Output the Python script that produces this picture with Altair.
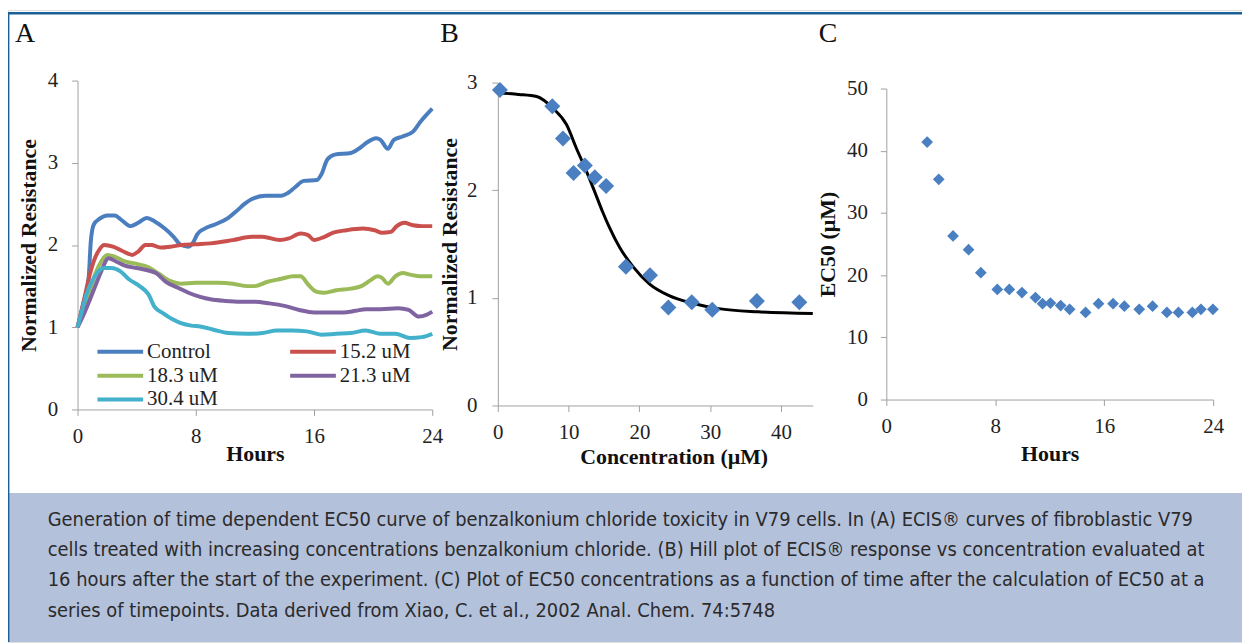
import altair as alt
import pandas as pd

SERIF = "Liberation Serif"

# ---------------- Panel A: ECIS curves ----------------
series_names = ["Control", "15.2 uM", "18.3 uM", "21.3 uM", "30.4 uM"]
series_colors = ["#4a7ebf", "#c9504c", "#9bbb59", "#8064a2", "#43b0cc"]

control_h = [0, 0.4, 0.75, 0.9, 1.1, 1.5, 2.0, 2.5, 3.0, 3.6, 4.1, 4.7, 5.2, 5.9, 6.5, 7.0, 7.5, 7.85,
             8.1, 8.6, 9.3, 10.2, 10.8, 11.3, 11.8, 12.7, 13.8, 14.2, 14.7, 15.3, 16.2, 16.5, 16.9, 17.4,
             18.5, 19.1, 19.6, 20.2, 20.5, 21.0, 21.4, 22.0, 22.7, 23.2, 24.0]
control_v = [1.0, 1.3, 1.6, 2.05, 2.25, 2.32, 2.36, 2.36, 2.3, 2.23, 2.27, 2.33, 2.29, 2.2, 2.1, 2.0, 1.98, 2.04,
             2.13, 2.2, 2.25, 2.33, 2.42, 2.5, 2.56, 2.6, 2.6, 2.63, 2.7, 2.78, 2.79, 2.86, 3.04, 3.1,
             3.12, 3.18, 3.25, 3.3, 3.28, 3.17, 3.28, 3.32, 3.38, 3.5, 3.66]

c152_h = [0, 0.4, 0.8, 1.2, 1.5, 1.8, 2.4, 3.0, 3.7, 4.1, 4.6, 5.0, 5.6, 6.3, 7.0, 8.0, 9.0, 10.5, 11.8,
          12.5, 13.7, 14.3, 15.1, 15.6, 16.0, 16.7, 17.3, 18.2, 19.3, 20.1, 20.6, 21.2, 21.6, 22.1, 22.7,
          23.3, 24.0]
c152_v = [1.0, 1.3, 1.62, 1.85, 1.95, 2.0, 1.98, 1.93, 1.88, 1.92, 2.0, 2.0, 1.97, 1.98, 2.0, 2.01, 2.02,
          2.06, 2.1, 2.1, 2.06, 2.08, 2.14, 2.12, 2.06, 2.1, 2.15, 2.18, 2.2, 2.18, 2.15, 2.16, 2.23, 2.27,
          2.24, 2.23, 2.23]

c183_h = [0, 0.4, 0.8, 1.2, 1.6, 2.0, 2.5, 3.2, 4.0, 4.8, 5.5, 6.3, 7.0, 8.0, 9.5, 10.5, 11.5, 12.0, 12.8,
          13.8, 14.6, 15.1, 15.6, 16.2, 16.7, 17.5, 18.5, 19.2, 19.8, 20.3, 20.6, 21.0, 21.5, 22.0, 22.5,
          23.2, 24.0]
c183_v = [1.0, 1.2, 1.42, 1.65, 1.8, 1.88, 1.86, 1.8, 1.77, 1.73, 1.65, 1.56, 1.53, 1.54, 1.54, 1.53, 1.5,
          1.5, 1.55, 1.59, 1.62, 1.62, 1.52, 1.43, 1.42, 1.45, 1.47, 1.5, 1.57, 1.62, 1.6, 1.53, 1.62, 1.66,
          1.64, 1.62, 1.62]

c213_h = [0, 0.4, 0.8, 1.2, 1.6, 2.1, 2.6, 3.2, 4.0, 4.8, 5.3, 6.0, 6.8, 7.5, 8.3, 9.0, 10.0, 11.0, 12.0,
          13.0, 14.0, 15.0, 16.0, 17.0, 18.0, 18.8, 19.5, 20.5, 21.7, 22.4, 23.1, 23.6, 24.0]
c213_v = [1.0, 1.15, 1.32, 1.5, 1.68, 1.84, 1.8, 1.75, 1.72, 1.69, 1.66, 1.55, 1.48, 1.42, 1.37, 1.34, 1.32,
          1.31, 1.31, 1.29, 1.26, 1.21, 1.18, 1.18, 1.18, 1.2, 1.22, 1.22, 1.23, 1.21, 1.13, 1.15, 1.19]

c304_h = [0, 0.3, 0.6, 1.1, 1.8, 2.3, 2.9, 3.5, 4.2, 4.8, 5.2, 5.8, 6.4, 7.0, 7.7, 8.3, 9.2, 10.2, 11.5,
          12.5, 13.5, 14.5, 15.5, 16.5, 17.5, 18.5, 19.5, 20.5, 21.5, 22.5, 23.3, 24.0]
c304_v = [1.0, 1.2, 1.4, 1.6, 1.72, 1.72, 1.68, 1.58, 1.5, 1.4, 1.25, 1.17, 1.1, 1.05, 1.02, 1.01, 0.97,
          0.93, 0.92, 0.93, 0.96, 0.96, 0.95, 0.91, 0.92, 0.93, 0.96, 0.92, 0.92, 0.87, 0.88, 0.92]

hours_ticks = [0, 8, 16, 24]
a_y_ticks = [0, 1, 2, 3, 4]

# ---------------- Panel B: Hill plot ----------------
b_conc = [0.3, 7.7, 9.2, 10.7, 12.3, 13.7, 15.3, 18.1, 21.5, 24.1, 27.4, 30.3, 36.6, 42.6]
b_resp = [2.93, 2.78, 2.48, 2.16, 2.23, 2.12, 2.04, 1.29, 1.21, 0.91, 0.96, 0.89, 0.97, 0.96]
fit_conc = [0, 0.8, 3, 5.5, 7.8, 9.7, 11.1, 12.5, 13.9, 14.8, 15.8, 17.2, 19.1, 21.4, 24.2, 27.5, 31.2, 36.8, 44.5]
fit_resp = [2.90, 2.90, 2.89, 2.87, 2.76, 2.61, 2.39, 2.18, 1.95, 1.80, 1.65, 1.47, 1.29, 1.13, 1.02, 0.95,
            0.90, 0.87, 0.855]
b_x_ticks = [0, 10, 20, 30, 40]
b_y_ticks = [0, 1, 2, 3]

# ---------------- Panel C: EC50 vs time ----------------
c_hours = [3.0, 3.85, 4.9, 6.04, 6.94, 8.15, 9.03, 9.96, 10.95, 11.47, 12.05, 12.8, 13.46, 14.63, 15.58,
           16.65, 17.48, 18.57, 19.55, 20.6, 21.45, 22.47, 23.1, 23.98]
c_ec50 = [41.4, 35.4, 26.3, 24.1, 20.4, 17.7, 17.7, 17.2, 16.4, 15.4, 15.5, 15.1, 14.5, 14.0, 15.4, 15.4,
          15.0, 14.5, 15.0, 14.0, 14.0, 14.0, 14.5, 14.5]
c_y_ticks = [0, 10, 20, 30, 40, 50]

caption_lines = [
    "Generation of time dependent EC50 curve of benzalkonium chloride toxicity in V79 cells. In (A) ECIS\u00ae curves of fibroblastic V79",
    "cells treated with increasing concentrations benzalkonium chloride. (B) Hill plot of ECIS\u00ae response vs concentration evaluated at",
    "16 hours after the start of the experiment. (C) Plot of EC50 concentrations as a function of time after the calculation of EC50 at a",
    "series of timepoints. Data derived from Xiao, C. et al., 2002 Anal. Chem. 74:5748",
]

# ---------------- build tables ----------------
rows = []
for name, hs, vs in zip(series_names, [control_h, c152_h, c183_h, c213_h, c304_h],
                        [control_v, c152_v, c183_v, c213_v, c304_v]):
    for i, (h, v) in enumerate(zip(hs, vs)):
        rows.append({"series": name, "hour": h, "value": v, "order": i})
df_a = pd.DataFrame(rows)
df_b = pd.DataFrame({"conc": b_conc, "resp": b_resp})
df_fit = pd.DataFrame({"conc": fit_conc, "resp": fit_resp})
df_c = pd.DataFrame({"hour": c_hours, "ec50": c_ec50})
one = pd.DataFrame({"k": [0]})

W, H = 1242, 636
AXIS_GRAY = "#a0a0a0"


def make_axis(values, title, orient, offset, label_pad, title_x=None, title_y=None):
    kw = dict(values=values, title=title, orient=orient, offset=offset, grid=False,
              domainColor=AXIS_GRAY, tickColor=AXIS_GRAY, tickSize=6, domainWidth=1,
              labelFont=SERIF, labelFontSize=21, labelColor="#222222", labelPadding=label_pad,
              labelFlush=False, labelOverlap=False,
              titleFont=SERIF, titleFontSize=22, titleFontWeight="bold", titleColor="#111111",
              titleBaseline="middle")
    if title_x is not None:
        kw["titleX"] = title_x
    if title_y is not None:
        kw["titleY"] = title_y
    return alt.Axis(**kw)


# plot-area ranges (view pixels)
A_X = [70, 427]
A_Y = [402, 71]
B_X = [493, 810]
B_Y = [398, 73]
C_X = [884, 1213]
C_Y = [392, 79]

panel_a = alt.Chart(df_a).mark_line(strokeWidth=4, interpolate="monotone", strokeJoin="round").encode(
    x=alt.X("hour:Q", scale=alt.Scale(domain=[0, 24], range=A_X, nice=False, zero=False),
            axis=make_axis(hours_ticks, "Hours", "bottom", A_Y[0] - H, 10, title_y=44)),
    y=alt.Y("value:Q", scale=alt.Scale(domain=[0, 4], range=A_Y, nice=False),
            axis=make_axis(a_y_ticks, "Normalized Resistance", "left", -A_X[0], 14, title_x=-49)),
    color=alt.Color("series:N", scale=alt.Scale(domain=series_names, range=series_colors),
                    legend=alt.Legend(orient="none", legendX=88, legendY=332, title=None, columns=2,
                                      direction="horizontal",
                                      symbolType="stroke", symbolSize=2116, symbolStrokeWidth=4,
                                      labelFont=SERIF, labelFontSize=21, labelColor="#222222",
                                      labelOffset=2, clipHeight=24, rowPadding=0, columnPadding=70,
                                      padding=0)),
    order="order:Q",
)

panel_b_fit = alt.Chart(df_fit).mark_line(color="#000000", strokeWidth=3, interpolate="monotone").encode(
    x=alt.X("conc:Q", scale=alt.Scale(domain=[0, 44.5], range=B_X, nice=False, zero=False),
            axis=make_axis(b_x_ticks, "Concentration (\u00b5M)", "bottom", B_Y[0] - H, 10, title_x=670, title_y=51)),
    y=alt.Y("resp:Q", scale=alt.Scale(domain=[0, 3], range=B_Y, nice=False),
            axis=make_axis(b_y_ticks, "Normalized Resistance", "left", -B_X[0], 15, title_x=-49)),
)

panel_b_pts = alt.Chart(df_b).mark_point(shape="diamond", filled=True, size=260, opacity=1,
                                         color="#4a7fc1").encode(
    x=alt.X("conc:Q", scale=alt.Scale(domain=[0, 44.5], range=B_X, nice=False, zero=False), axis=None),
    y=alt.Y("resp:Q", scale=alt.Scale(domain=[0, 3], range=B_Y, nice=False), axis=None),
)

panel_c = alt.Chart(df_c).mark_point(shape="diamond", filled=True, size=140, opacity=1,
                                     color="#4a7fc1").encode(
    x=alt.X("hour:Q", scale=alt.Scale(domain=[0, 24], range=C_X, nice=False, zero=False),
            axis=make_axis(hours_ticks, "Hours", "bottom", C_Y[0] - H, 10, title_y=54)),
    y=alt.Y("ec50:Q", scale=alt.Scale(domain=[0, 50], range=C_Y, nice=False),
            axis=make_axis(c_y_ticks, "EC50 (\u00b5M)", "left", -C_X[0], 13, title_x=-59)),
)

# decorations
caption_bg = alt.Chart(one).mark_rect(color="#b4c1db").encode(
    x=alt.value(1), x2=alt.value(W), y=alt.value(486), y2=alt.value(H))
frame_top = alt.Chart(one).mark_rule(color="#1a5f98", strokeWidth=2.5).encode(
    x=alt.value(0), x2=alt.value(W), y=alt.value(3.2))
frame_left = alt.Chart(one).mark_rule(color="#1a5f98", strokeWidth=2).encode(
    x=alt.value(0.4), y=alt.value(2), y2=alt.value(H))


def letter(t, x):
    return alt.Chart(one).mark_text(font=SERIF, fontSize=28, color="#111111", align="left",
                                    baseline="alphabetic").encode(
        x=alt.value(x), y=alt.value(32), text=alt.value(t))


caption = alt.Chart(one).mark_text(font="DejaVu Sans Condensed", fontSize=20, color="#2b2b2b",
                                   align="left", baseline="middle", lineHeight=30.5).encode(
    x=alt.value(40), y=alt.value(513), text=alt.value(caption_lines))

chart = alt.layer(
    caption_bg, frame_top, frame_left,
    panel_a, panel_b_fit, panel_b_pts, panel_c,
    letter("A", 7), letter("B", 435), letter("C", 816), caption,
).resolve_scale(
    x="independent", y="independent", color="independent"
).resolve_axis(
    x="independent", y="independent"
).properties(
    width=W, height=H, autosize=alt.AutoSizeParams(type="none"), padding=0
).configure_view(stroke=None).configure(background="white")

chart.save("out.html", embed_options={"renderer": "svg", "actions": False})
